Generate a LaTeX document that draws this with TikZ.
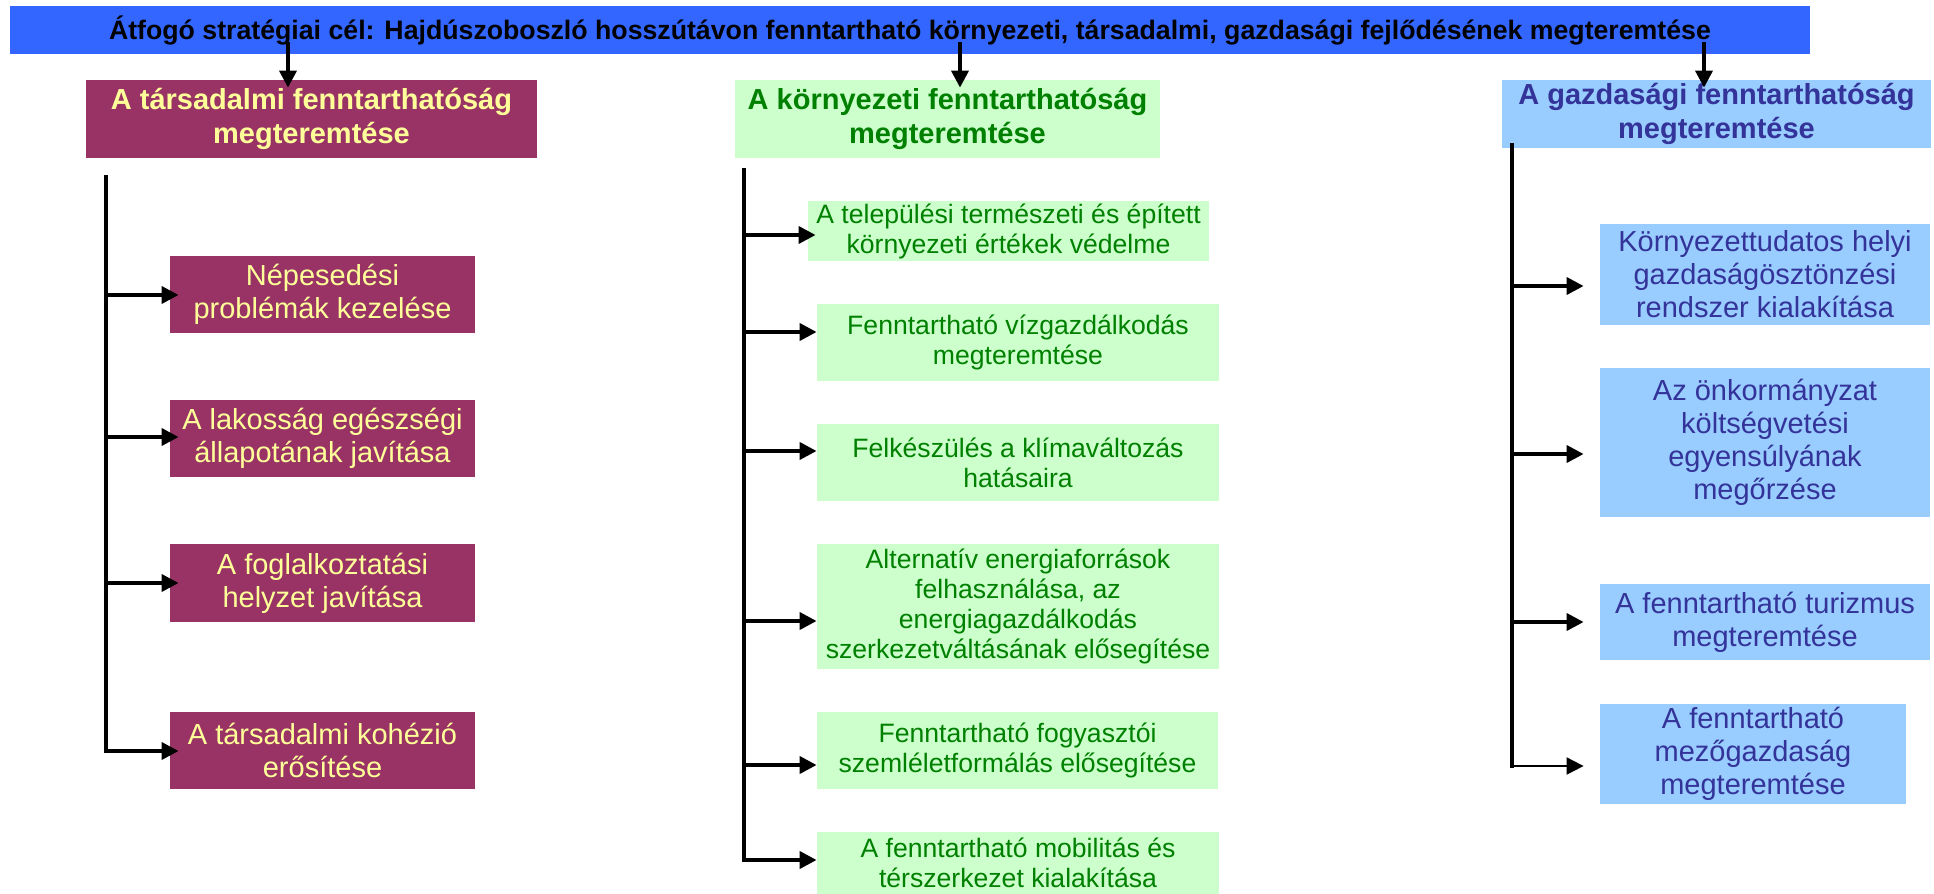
\documentclass[tikz,border=0pt]{standalone}
\usepackage{fontspec}
\setmainfont{Liberation Sans}
\usetikzlibrary{arrows.meta}
\definecolor{barblue}{HTML}{3366FF}
\definecolor{socfill}{HTML}{993366}
\definecolor{soctext}{HTML}{FFFF99}
\definecolor{envfill}{HTML}{CCFFCC}
\definecolor{envtext}{HTML}{008000}
\definecolor{ecofill}{HTML}{99CCFF}
\definecolor{ecotext}{HTML}{333399}
\tikzset{
  box/.style={inner sep=0pt, align=center, draw=none},
  hdrfont/.style={font=\fontsize{14.5}{17}\selectfont\bfseries},
  subfont/.style={font=\fontsize{14.5}{16.5}\selectfont},
  midfont/.style={font=\fontsize{13.3}{15}\selectfont},
  soc/.style={box, fill=socfill, text=soctext},
  env/.style={box, fill=envfill, text=envtext},
  eco/.style={box, fill=ecofill, text=ecotext},
  trunk/.style={line width=1.85pt, line cap=rect},
  arr/.style={line width=1.85pt, -{Triangle[length=8.5pt,width=8.5pt]}},
}
\begin{document}
\begin{tikzpicture}[x=0.5pt,y=-0.5pt]
\useasboundingbox (0,0) rectangle (1934,894);
% top bar
\node[box, fill=barblue, minimum width=900pt, minimum height=24pt,
  font=\fontsize{13.35}{15}\selectfont\bfseries] (bar) at (910,30)
  {Átfogó stratégiai cél: Hajdúszoboszló hosszútávon fenntartható környezeti, társadalmi, gazdasági fejlődésének megteremtése};
% headers
\node[soc, hdrfont, minimum width=225.5pt, minimum height=39pt] (h1) at (311.5,119)
  {A társadalmi fenntarthatóság\\megteremtése};
\node[env, hdrfont, minimum width=212.5pt, minimum height=39pt] (h2) at (947.5,119)
  {A környezeti fenntarthatóság\\megteremtése};
\node[eco, hdrfont, minimum width=214.5pt, minimum height=34pt] (h3) at (1716.5,114)
  {A gazdasági fenntarthatóság\\megteremtése};
% bar arrows
\coordinate (b1) at (288,42);
\coordinate (b2) at (960,42);
\coordinate (b3) at (1704,42);
\draw[arr, shorten >=-4pt] (b1) -- (b1 |- h1.north);
\draw[arr, shorten >=-4pt] (b2) -- (b2 |- h2.north);
\draw[arr, shorten >=-4pt] (b3) -- (b3 |- h3.north);

% left column
\node[soc, subfont, minimum width=152.5pt, minimum height=38.5pt] (a) at (322.5,294.5)
  {Népesedési\\problémák kezelése};
\node[soc, subfont, minimum width=152.5pt, minimum height=38.5pt] (b) at (322.5,438.5)
  {A lakosság egészségi\\állapotának javítása};
\node[soc, subfont, minimum width=152.5pt, minimum height=39pt] (c) at (322.5,583)
  {A foglalkoztatási\\helyzet javítása};
\node[soc, subfont, minimum width=152.5pt, minimum height=38.5pt] (d) at (322.5,750.5)
  {A társadalmi kohézió\\erősítése};
\coordinate (l0) at (106,175);
\coordinate (la) at (106,295);
\coordinate (lb) at (106,437);
\coordinate (lc) at (106,583);
\coordinate (ld) at (106,751);
\draw[arr, shorten >=-4.5pt] (l0) -- (ld) -- (d.west |- ld);
\draw[arr, shorten >=-4.5pt] (la) -- (a.west |- la);
\draw[arr, shorten >=-4.5pt] (lb) -- (b.west |- lb);
\draw[arr, shorten >=-4.5pt] (lc) -- (c.west |- lc);

% middle column
\node[env, midfont, minimum width=200.5pt, minimum height=30pt] (e1) at (1008.5,231)
  {A települési természeti és épített\\környezeti értékek védelme};
\node[env, midfont, minimum width=201pt, minimum height=38.5pt] (e2) at (1018,342.5)
  {Fenntartható vízgazdálkodás\\megteremtése};
\node[env, midfont, minimum width=201pt, minimum height=38.5pt] (e3) at (1018,462.5)
  {Felkészülés a klímaváltozás\\hatásaira};
\node[env, midfont, minimum width=201pt, minimum height=62.5pt] (e4) at (1018,606.5)
  {Alternatív energiaforrások\\felhasználása, az\\energiagazdálkodás\\szerkezetváltásának elősegítése};
\node[env, midfont, minimum width=200.5pt, minimum height=38.5pt] (e5) at (1017.5,750.5)
  {Fenntartható fogyasztói\\szemléletformálás elősegítése};
\node[env, midfont, minimum width=201pt, minimum height=31pt] (e6) at (1018,863)
  {A fenntartható mobilitás és\\térszerkezet kialakítása};
\coordinate (m0) at (744,168);
\coordinate (m1) at (744,235);
\coordinate (m2) at (744,332);
\coordinate (m3) at (744,451);
\coordinate (m4) at (744,621);
\coordinate (m5) at (744,765);
\coordinate (m6) at (744,860);
\draw[arr] (m0) -- (m6) -- (e6.west |- m6);
\draw[arr, shorten >=-4pt] (m1) -- (e1.west |- m1);
\draw[arr] (m2) -- (e2.west |- m2);
\draw[arr] (m3) -- (e3.west |- m3);
\draw[arr] (m4) -- (e4.west |- m4);
\draw[arr] (m5) -- (e5.west |- m5);

% right column
\node[eco, subfont, minimum width=165pt, minimum height=50.5pt] (g1) at (1765,274.5)
  {Környezettudatos helyi\\gazdaságösztönzési\\rendszer kialakítása};
\node[eco, subfont, minimum width=165pt, minimum height=74.5pt] (g2) at (1765,442.5)
  {Az önkormányzat\\költségvetési\\egyensúlyának\\megőrzése};
\node[eco, subfont, minimum width=165pt, minimum height=38pt] (g3) at (1765,622)
  {A fenntartható turizmus\\megteremtése};
\node[eco, subfont, minimum width=153pt, minimum height=50pt] (g4) at (1753,754)
  {A fenntartható\\mezőgazdaság\\megteremtése};
\coordinate (r0) at (1512,145);
\coordinate (r1) at (1512,286);
\coordinate (r2) at (1512,454);
\coordinate (r3) at (1512,622);
\coordinate (r4) at (1512,766);
\draw[trunk] (r0) -- (r4);
\draw[arr, shorten >=8pt] (r1) -- (g1.west |- r1);
\draw[arr, shorten >=8pt] (r2) -- (g2.west |- r2);
\draw[arr, shorten >=8pt] (r3) -- (g3.west |- r3);
\draw[arr, line width=1pt, shorten >=8pt] (r4) -- (g4.west |- r4);
\end{tikzpicture}
\end{document}
